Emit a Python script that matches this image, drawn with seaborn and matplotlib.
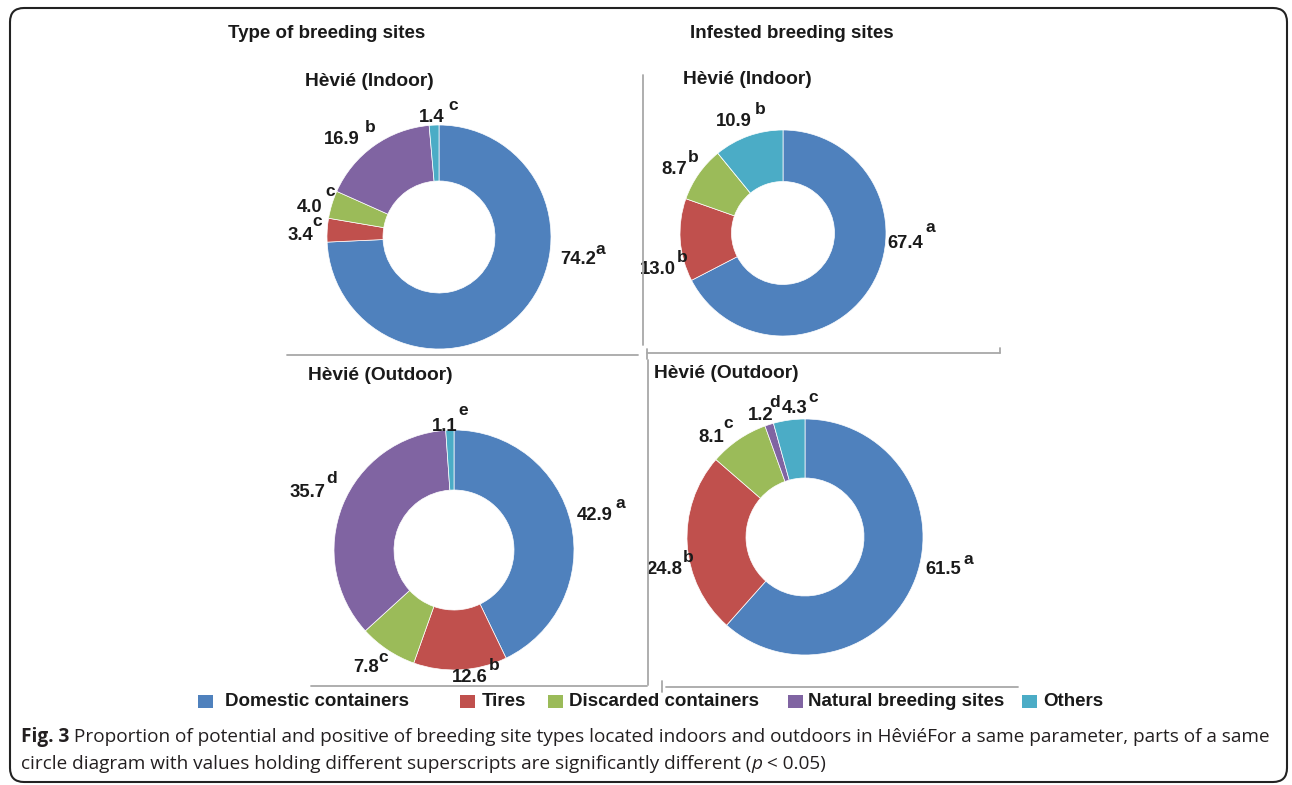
import numpy as np
import pandas as pd
import matplotlib
matplotlib.use("Agg")
import matplotlib.pyplot as plt
import seaborn as sns
from matplotlib.patches import FancyBboxPatch, Rectangle
from matplotlib.lines import Line2D

# ---------------- data ----------------
categories = ["Domestic containers", "Tires", "Discarded containers",
              "Natural breeding sites", "Others"]
colors = ["#4F81BD", "#C0504D", "#9BBB59", "#8064A2", "#4BACC6"]

type_indoor = [74.2, 3.4, 4.0, 16.9, 1.4]
type_indoor_sup = ["a", "c", "c", "b", "c"]
infested_indoor = [67.4, 13.0, 8.7, 0.0, 10.9]
infested_indoor_sup = ["a", "b", "b", "", "b"]
type_outdoor = [42.9, 12.6, 7.8, 35.7, 1.1]
type_outdoor_sup = ["a", "b", "c", "d", "e"]
infested_outdoor = [61.5, 24.8, 8.1, 1.2, 4.3]
infested_outdoor_sup = ["a", "b", "c", "d", "c"]

column_titles = ["Type of breeding sites", "Infested breeding sites"]
panel_titles = ["Hèvié (Indoor)", "Hèvié (Indoor)", "Hèvié (Outdoor)", "Hèvié (Outdoor)"]
caption_bold = "Fig. 3"
caption_line1 = (" Proportion of potential and positive of breeding site types located "
                 "indoors and outdoors in HêviéFor a same parameter, parts of a same")
caption_line2a = "circle diagram with values holding different superscripts are significantly different ("
caption_line2b = "p"
caption_line2c = " < 0.05)"

# ---------------- layout (pixels) ----------------
W, H = 1292, 785
sns.set_theme(style="white")
plt.rcParams["font.family"] = ["Liberation Sans", "DejaVu Sans"]

fig = plt.figure(figsize=(W / 100, H / 100), dpi=100)
fig.patch.set_facecolor("white")

def fx(x):
    return x / W

def fy(y):
    return 1 - y / H

panels = [
    dict(values=type_indoor, sups=type_indoor_sup, cx=439, cy=237, R=112,
         title=panel_titles[0], tpos=(369, 82),
         lab=[(578, 260, 600, 249), (300, 235, 317, 222), (310, 207, 330, 192),
              (342, 140, 370, 127), (432, 118, 453, 105)]),
    dict(values=infested_indoor, sups=infested_indoor_sup, cx=783, cy=233, R=103,
         title=panel_titles[1], tpos=(747, 80),
         lab=[(905, 243, 930, 228), (658, 270, 682, 257), (674, 170, 693, 157),
              None, (734, 122, 760, 110)]),
    dict(values=type_outdoor, sups=type_outdoor_sup, cx=454, cy=550, R=120,
         title=panel_titles[2], tpos=(380, 375),
         lab=[(595, 515, 620, 503), (470, 677, 494, 665), (366, 668, 383, 658),
              (308, 492, 332, 478), (445, 426, 463, 410)]),
    dict(values=infested_outdoor, sups=infested_outdoor_sup, cx=805, cy=537, R=118,
         title=panel_titles[3], tpos=(726, 373),
         lab=[(943, 570, 968, 560), (664, 570, 688, 557), (711, 437, 728, 423),
              (761, 415, 775, 402), (795, 408, 813, 397)]),
]

S = 1.9
for p in panels:
    cx, cy, R = p["cx"], p["cy"], p["R"]
    ax = fig.add_axes([fx(cx - S * R), fy(cy + S * R), 2 * S * R / W, 2 * S * R / H])
    ax.pie(p["values"], colors=colors, startangle=90, counterclock=False, radius=1,
           wedgeprops=dict(width=0.5, edgecolor="white", linewidth=0.5))
    ax.set_xlim(-S, S)
    ax.set_ylim(-S, S)
    ax.set_aspect("equal")
    ax.axis("off")
    for v, sup, lab in zip(p["values"], p["sups"], p["lab"]):
        if lab is None or v == 0:
            continue
        nx, ny, sx, sy = lab
        ax.text((nx - cx) / R, (cy - ny) / R, f"{v:.1f}", ha="center", va="center",
                fontsize=13.3, fontweight="bold", color="#1a1a1a")
        ax.text((sx - cx) / R, (cy - sy) / R, sup, ha="center", va="center",
                fontsize=12.5, fontweight="bold", color="#1a1a1a")
    fig.text(fx(p["tpos"][0]), fy(p["tpos"][1]), p["title"], ha="center", va="center",
             fontsize=13.8, fontweight="bold", color="#1a1a1a")

# column titles
fig.text(fx(327), fy(33), column_titles[0], ha="center", va="center",
         fontsize=13.5, fontweight="bold", color="#1a1a1a")
fig.text(fx(792), fy(33), column_titles[1], ha="center", va="center",
         fontsize=13.5, fontweight="bold", color="#1a1a1a")

# panel separator lines
gray = "#a8a8a8"
seg = [
    ((287, 355), (638, 355)),
    ((643, 75), (643, 345)),
    ((647, 353), (1000, 353)),
    ((647, 349), (647, 359)),
    ((1000, 348), (1000, 353)),
    ((648, 360), (648, 685)),
    ((311, 686), (647, 686)),
    ((666, 687), (1018, 687)),
    ((662, 681), (662, 692)),
]
for (x1, y1), (x2, y2) in seg:
    fig.add_artist(Line2D([fx(x1), fx(x2)], [fy(y1), fy(y2)], transform=fig.transFigure,
                          color=gray, lw=1.3))

# legend
sq_x = [198, 460, 548, 788, 1022]
tx_x = [225, 482, 569, 808, 1043]
for c, name, sx, tx in zip(colors, categories, sq_x, tx_x):
    fig.add_artist(Rectangle((fx(sx), fy(708)), 15 / W, 13 / H, transform=fig.transFigure,
                             facecolor=c, edgecolor="none"))
    fig.text(fx(tx), fy(702), name, ha="left", va="center", fontsize=13.5,
             fontweight="bold", color="#1a1a1a")

# caption
renderer = fig.canvas.get_renderer()
cap_color = "#231f20"
base_fs = 13.0
cap_font = ["Open Sans", "DejaVu Sans"]
t_b = fig.text(fx(21), fy(737), caption_bold, ha="left", va="center", fontsize=base_fs,
               fontweight="bold", family=cap_font, color=cap_color)
t_1 = fig.text(0, fy(737), caption_line1, ha="left", va="center", fontsize=base_fs,
               family=cap_font, color=cap_color)
wb = t_b.get_window_extent(renderer).width
w1 = t_1.get_window_extent(renderer).width
target = 1267 - 21
fs = base_fs * target / (wb + w1)
t_b.set_fontsize(fs)
t_1.set_fontsize(fs)
wb = t_b.get_window_extent(renderer).width
t_1.set_x(fx(21 + wb))

t_2a = fig.text(fx(21), fy(764), caption_line2a, ha="left", va="center", fontsize=fs,
                family=cap_font, color=cap_color)
w2a = t_2a.get_window_extent(renderer).width
t_2b = fig.text(fx(21 + w2a), fy(764), caption_line2b, ha="left", va="center", fontsize=fs,
                style="italic", family=cap_font, color=cap_color)
w2b = t_2b.get_window_extent(renderer).width
fig.text(fx(21 + w2a + w2b), fy(764), caption_line2c, ha="left", va="center", fontsize=fs,
         family=cap_font, color=cap_color)

# rounded frame
frame = FancyBboxPatch((0.10, 0.03), (1287 - 10) / 100, (782 - 8) / 100,
                       boxstyle="round,pad=0,rounding_size=0.14",
                       transform=fig.dpi_scale_trans, facecolor="none",
                       edgecolor="#222222", lw=1.5)
fig.add_artist(frame)

fig.savefig("out.png", dpi=100, facecolor="white")
